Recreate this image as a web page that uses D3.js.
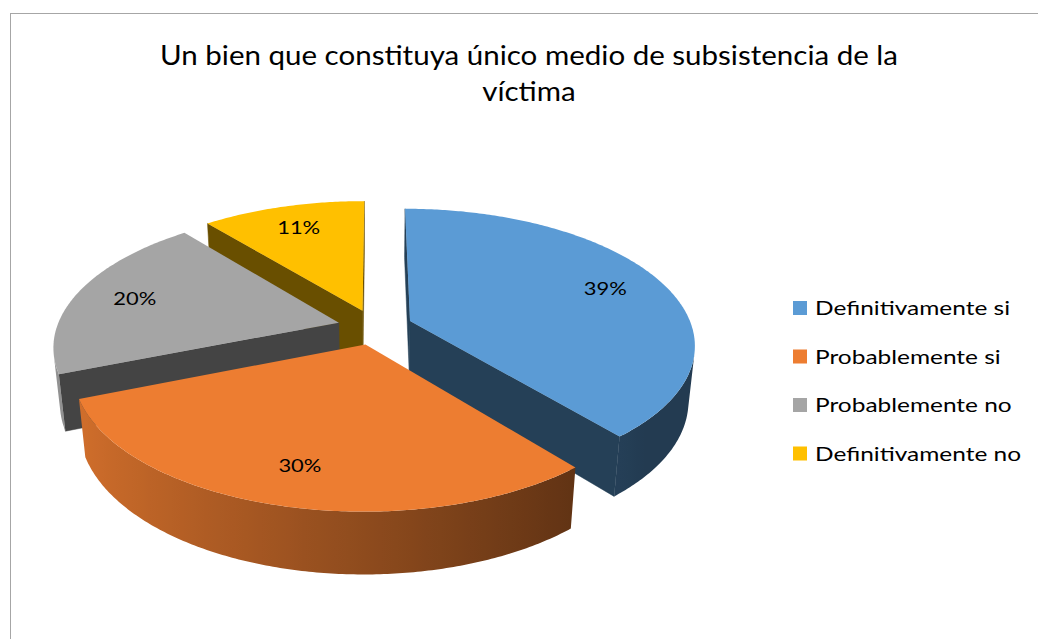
<!DOCTYPE html>
<html>
<head>
<meta charset="utf-8">
<script src="https://cdn.jsdelivr.net/npm/d3@7"></script>
<style>
  body { margin: 0; background: #fff; }
  svg { display: block; font-family: Lato, "Open Sans", sans-serif; }
</style>
</head>
<body>
<svg width="1038" height="639"></svg>
<script>
let width = 1038;
let height = 639;

// data
let categories = ["Definitivamente si", "Probablemente si", "Probablemente no", "Definitivamente no"];
let values = [39, 30, 20, 11];
let labels = ["39%", "30%", "20%", "11%"];
let colors = ["#5B9BD5", "#ED7D31", "#A5A5A5", "#FFC000"];
let titleLines = ["Un bien que constituya único medio de subsistencia de la", "víctima"];

let svg = d3.select("svg");
let defs = svg.append("defs");

// chart frame
svg.append("rect")
    .attr("x", 10.5)
    .attr("y", 13.5)
    .attr("width", 1100)
    .attr("height", 1000)
    .style("fill", "none")
    .style("stroke", "#A6A6A6")
    .style("stroke-width", 1);

// 3d view settings
let view = {
    cx: 375,
    cy: 327,
    k: 282,            // px per unit radius at the centre
    phi: 28.1 * Math.PI / 180,
    dist: 5.3,         // camera distance in radius units
    depth: 0.225,      // thickness of the pie
    explode: 0.133
};
let sinP = Math.sin(view.phi), cosP = Math.cos(view.phi);
let camera = [0, view.dist * sinP, view.dist * cosP];

function project(p) {
    let toward = p[2] * cosP + p[1] * sinP;
    let up = p[1] * cosP - p[2] * sinP;
    let s = view.dist / (view.dist - toward);
    return [view.cx + view.k * p[0] * s, view.cy - view.k * up * s];
}

function shade(color, b) {
    let c = d3.rgb(color);
    return d3.rgb(c.r * b, c.g * b, c.b * b).formatHex();
}

function faces_camera(P, n) {
    return (camera[0] - P[0]) * n[0] + (camera[1] - P[1]) * n[1] + (camera[2] - P[2]) * n[2] > 0;
}

// light comes from the left, so the side gets darker to the right
function side_light(t) {
    return Math.max(0.38, 0.6 - 0.3 * Math.sin(t));
}

let pie = d3.pie().sort(null).startAngle(0).endAngle(2 * Math.PI);
let arcs = pie(values);

arcs.forEach(function(d, i) {
    d.mid = (d.startAngle + d.endAngle) / 2;
    d.ox = view.explode * Math.sin(d.mid);
    d.oz = -view.explode * Math.cos(d.mid);
    d.color = colors[i];
    d.index = i;
    // depth of the slice centre, used for drawing order
    d.order = (d.oz - 0.5 * Math.cos(d.mid)) * cosP;
});

function rim(d, t, H, r) {
    r = r === undefined ? 1 : r;
    return [d.ox + r * Math.sin(t), H, d.oz - r * Math.cos(t)];
}

let line = d3.line();
let chart = svg.append("g");

let drawOrder = arcs.slice().sort((a, b) => a.order - b.order);

drawOrder.forEach(function(d) {
    let g = chart.append("g");
    let top = 0, bot = -view.depth;
    let apexTop = [d.ox, top, d.oz];
    let apexBot = [d.ox, bot, d.oz];

    // radial side faces
    [[d.startAngle, -1], [d.endAngle, 1]].forEach(function(edge) {
        let a = edge[0];
        let na = a + edge[1] * Math.PI / 2;
        let n = [Math.sin(na), 0, -Math.cos(na)];
        if (!faces_camera(apexTop, n)) return;
        let pts = [apexTop, rim(d, a, top), rim(d, a, bot), apexBot].map(project);
        g.append("path")
            .attr("d", line(pts) + "Z")
            .style("fill", shade(d.color, 0.41))
            .style("stroke", shade(d.color, 0.41))
            .style("stroke-width", 0.5);
    });

    // curved outer side: keep the part that faces the camera
    let steps = Math.max(8, Math.round((d.endAngle - d.startAngle) * 90));
    let ts = d3.range(steps + 1).map(j => d.startAngle + (d.endAngle - d.startAngle) * j / steps);
    let vis = ts.filter(t => faces_camera(rim(d, t, bot / 2), [Math.sin(t), 0, -Math.cos(t)]));
    if (vis.length > 1) {
        let upper = vis.map(t => project(rim(d, t, top)));
        let lower = vis.map(t => project(rim(d, t, bot))).reverse();
        let xs = upper.map(p => p[0]);
        let x0 = d3.min(xs), x1 = d3.max(xs);
        let grad = defs.append("linearGradient")
            .attr("id", "side" + d.index)
            .attr("gradientUnits", "userSpaceOnUse")
            .attr("x1", x0).attr("x2", x1)
            .attr("y1", 0).attr("y2", 0);
        let stops = vis.map((t, j) => ({ x: xs[j], c: shade(d.color, side_light(t)) }))
            .sort((a, b) => a.x - b.x);
        grad.selectAll("stop")
            .data(stops.filter((s, j) => j % 4 == 0 || j == stops.length - 1))
            .join("stop")
            .attr("offset", s => x1 > x0 ? (s.x - x0) / (x1 - x0) : 0)
            .attr("stop-color", s => s.c);
        g.append("path")
            .attr("d", line(upper.concat(lower)) + "Z")
            .style("fill", `url(#side${d.index})`);
    }

    // top face
    let topPts = [project(apexTop)].concat(ts.map(t => project(rim(d, t, top))));
    g.append("path")
        .attr("d", line(topPts) + "Z")
        .style("fill", d.color);
});

// percentage labels on the top faces
arcs.forEach(function(d, i) {
    let xy = project(rim(d, d.mid, 0, 0.78));
    chart.append("text")
        .attr("class", "pct")
        .attr("x", xy[0])
        .attr("y", xy[1] + 7)
        .attr("text-anchor", "middle")
        .style("font-size", "18px")
        .style("fill", "#000")
        .text(labels[i]);
});

// title
let title = svg.append("g")
    .selectAll("text")
    .data(titleLines)
    .join("text")
    .attr("x", 529)
    .attr("y", (d, i) => 65 + i * 36)
    .attr("text-anchor", "middle")
    .style("font-size", "27px")
    .style("fill", "#000")
    .text(d => d);

// legend
let legend = svg.append("g")
    .selectAll("g")
    .data(categories)
    .join("g")
    .attr("transform", (d, i) => `translate(793,${308 + i * 48.5})`);

legend.append("rect")
    .attr("x", 0)
    .attr("y", -7)
    .attr("width", 14)
    .attr("height", 14)
    .style("fill", (d, i) => colors[i]);

legend.append("text")
    .attr("x", 22)
    .attr("y", 7)
    .style("font-size", "20px")
    .style("fill", "#000")
    .text(d => d);

// squeeze the wider fallback font to the Calibri widths seen in the chart
function squeeze(sel, factor) {
    sel.each(function() {
        let len = this.getComputedTextLength();
        d3.select(this)
            .attr("textLength", len * factor)
            .attr("lengthAdjust", "spacingAndGlyphs");
    });
}
let titleFactor = 738 / title.nodes()[0].getComputedTextLength();
squeeze(title, titleFactor);
let legendFactor = 195 / legend.select("text").node().getComputedTextLength();
squeeze(legend.selectAll("text"), legendFactor);
let pctFactor = 43 / chart.select("text.pct").node().getComputedTextLength();
squeeze(chart.selectAll("text.pct"), pctFactor);
</script>
</body>
</html>
